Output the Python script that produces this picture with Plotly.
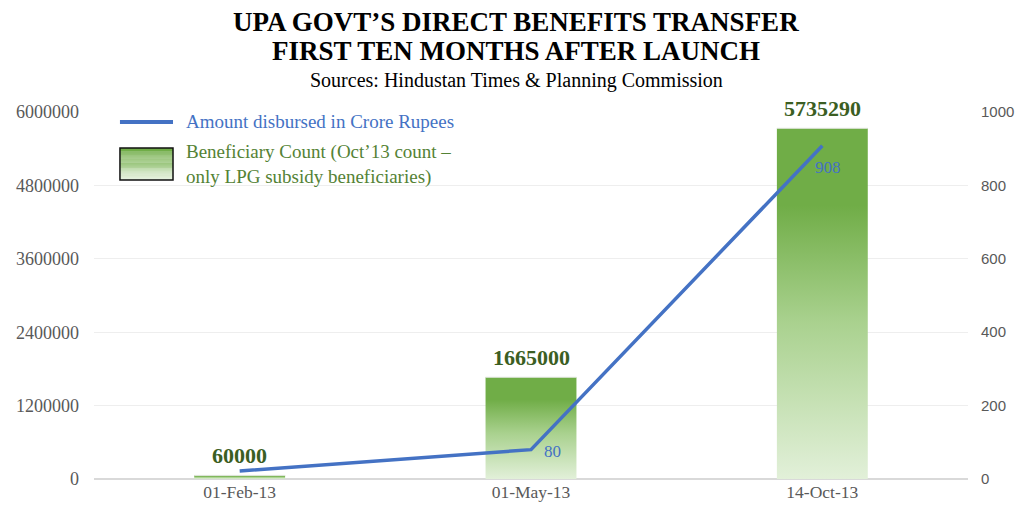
import plotly.graph_objects as go

dates = ["01-Feb-13", "01-May-13", "14-Oct-13"]
beneficiaries = [60000, 1665000, 5735290]
amount_crore = [22, 80, 908]
amount_labels = ["", "80", "908"]

GREEN = "#70AD47"
LIGHT = "#E2F0D9"
BLUE = "#4472C4"
SERIF = "Liberation Serif, Times New Roman, serif"
SANS = "Liberation Sans, Arial, sans-serif"
grad = [[0, LIGHT], [0.45, "#A9D18E"], [0.78, GREEN], [1, GREEN]]

fig = go.Figure()

half = 0.156
xs = list(range(len(dates)))
for x, v in zip(xs, beneficiaries):
    fig.add_trace(go.Scatter(
        x=[x - half, x + half], y=[v, v], mode="lines",
        line=dict(color="rgba(235,235,235,1)", width=1),
        fill="tozeroy",
        fillgradient=dict(type="vertical", colorscale=grad, start=0, stop=v),
        hoverinfo="skip", showlegend=False,
    ))

fig.add_trace(go.Scatter(
    x=xs, y=amount_crore, yaxis="y2", mode="lines",
    line=dict(color=BLUE, width=3.5), showlegend=False,
))

annotations = []
# bar value labels
for x, v in zip(xs, beneficiaries):
    annotations.append(dict(
        x=x, y=v, xref="x", yref="y", text="<b>%d</b>" % v, showarrow=False,
        xanchor="center", yanchor="bottom", yshift=5,
        font=dict(family=SERIF, size=22, color="#3B5E22")))
# line value labels
for x, v, lab in zip(xs, amount_crore, amount_labels):
    if not lab:
        continue
    if v < 500:
        pos = dict(xanchor="left", yanchor="middle", xshift=11, yshift=-2)
    else:
        pos = dict(xanchor="center", yanchor="top", xshift=6, yshift=-10)
    annotations.append(dict(
        x=x, y=v, xref="x", yref="y2", text=lab, showarrow=False,
        font=dict(family=SERIF, size=17, color=BLUE), **pos))


def mix(c1, c2, t):
    a = [int(c1[i:i + 2], 16) for i in (1, 3, 5)]
    b = [int(c2[i:i + 2], 16) for i in (1, 3, 5)]
    return "rgb(%d,%d,%d)" % tuple(round(p + (q - p) * t) for p, q in zip(a, b))


# custom legend
shapes = [
    dict(type="line", xref="paper", yref="paper", x0=0.0297, x1=0.0904,
         y0=0.9728, y1=0.9728, line=dict(color=BLUE, width=4)),
]
n = 30
y_top, y_bot = 0.902, 0.815
for k in range(n):
    y0 = y_top - (y_top - y_bot) * k / n
    y1 = y_top - (y_top - y_bot) * (k + 1) / n
    t = max(0.0, (k / (n - 1) - 0.15) / 0.85)
    shapes.append(dict(type="rect", xref="paper", yref="paper", x0=0.0297, x1=0.0904,
                       y0=y1, y1=y0, fillcolor=mix(GREEN, LIGHT, t),
                       line=dict(width=0), layer="above"))
shapes.append(dict(type="rect", xref="paper", yref="paper", x0=0.0297, x1=0.0904,
                   y0=y_bot, y1=y_top, line=dict(color="#111111", width=1.5), layer="above"))
# frame lines
shapes.append(dict(type="line", xref="paper", yref="paper", x0=-0.2, x1=1.2,
                   y0=1.297, y1=1.297, line=dict(color="#555555", width=2)))
shapes.append(dict(type="line", xref="paper", yref="paper", x0=-0.2, x1=1.2,
                   y0=-0.0905, y1=-0.0905, line=dict(color="#444444", width=2)))

texts = [
    dict(text="Amount disbursed in Crore Rupees", x=0.103, y=0.9728,
         font=dict(family=SERIF, size=19, color=BLUE)),
    dict(text="Beneficiary Count (Oct\u201913 count \u2013<br>only LPG subsidy beneficiaries)",
         x=0.103, y=0.858, font=dict(family=SERIF, size=19, color="#548235")),
    dict(text="<b>UPA GOVT\u2019S DIRECT BENEFITS TRANSFER</b>", x=0.483, y=1.245,
         xanchor="center", font=dict(family=SERIF, size=27, color="#000000")),
    dict(text="<b>FIRST TEN MONTHS AFTER LAUNCH</b>", x=0.483, y=1.166,
         xanchor="center", font=dict(family=SERIF, size=27, color="#000000")),
    dict(text="Sources: Hindustan Times &amp; Planning Commission", x=0.483, y=1.0845,
         xanchor="center", font=dict(family=SERIF, size=20, color="#000000")),
]
for a in texts:
    a.setdefault("xanchor", "left")
    a.update(xref="paper", yref="paper", yanchor="middle", showarrow=False, align="left")
annotations += texts

# the page body adds an 8px margin, so the figure is sized to fit inside it
fig.update_layout(
    width=1008, height=498,
    margin=dict(l=86, r=48, t=104, b=27),
    paper_bgcolor="white", plot_bgcolor="white",
    showlegend=False,
    shapes=shapes, annotations=annotations,
    xaxis=dict(range=[-0.5, 2.5], tickvals=xs, ticktext=dates, showgrid=False,
               zeroline=False, showline=False, ticks="", automargin=False,
               tickfont=dict(family=SERIF, size=17.5, color="#595959")),
    yaxis=dict(range=[0, 6000000], dtick=1200000, tickformat="d", automargin=False,
               gridcolor="#EEEEEE", gridwidth=1, zeroline=True, zerolinecolor="#D9D9D9",
               zerolinewidth=1.5, ticks="", ticklabelstandoff=14,
               tickfont=dict(family=SERIF, size=18, color="#595959")),
    yaxis2=dict(range=[0, 1000], dtick=200, overlaying="y", side="right", automargin=False,
                showgrid=False, zeroline=False, ticks="", ticklabelstandoff=12,
                tickfont=dict(family=SANS, size=15, color="#595959")),
)

fig.write_html("out.html")
